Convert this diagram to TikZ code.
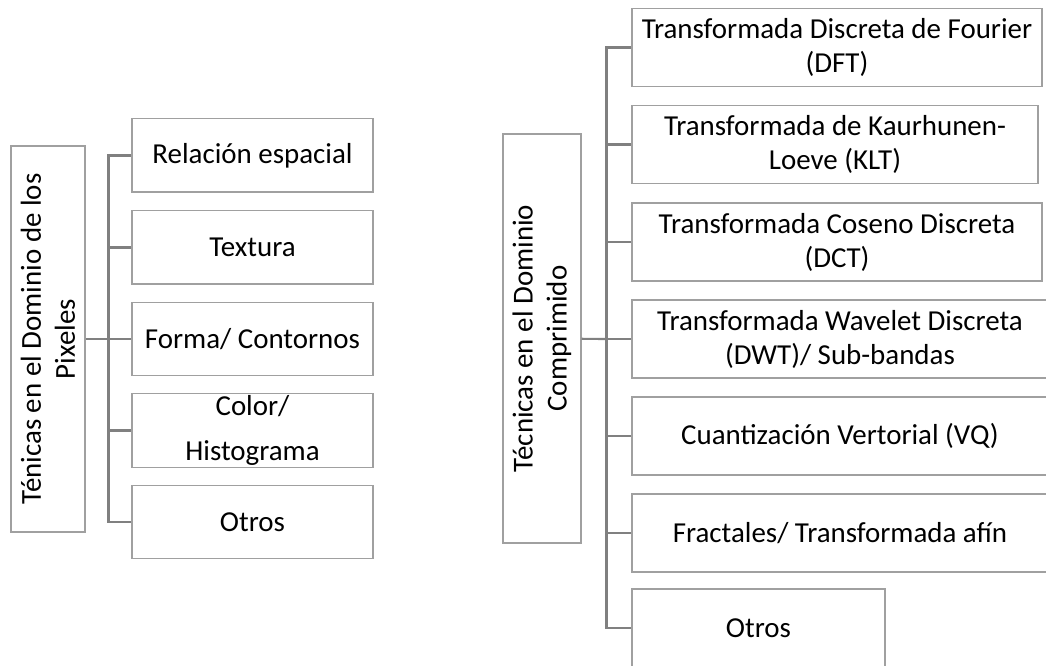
\documentclass[tikz,border=0pt]{standalone}
\usepackage{fontspec}
\setmainfont{Carlito}
\definecolor{boxgray}{RGB}{160,160,160}
\definecolor{linegray}{RGB}{128,128,128}
\begin{document}
\begin{tikzpicture}[x=0.75pt,y=-0.75pt,
  box/.style={draw=boxgray, line width=1.1pt, fill=white, inner sep=0pt, align=center,
    font=\fontsize{21.7pt}{25.5pt}\selectfont},
  lbox/.style={box, minimum width=180.75pt, minimum height=55.1pt},
  rbox/.style={box, minimum height=58.5pt},
  conn/.style={draw=linegray, line width=1.6pt}]
\useasboundingbox (0,0) rectangle (1046,666);
\clip (0,0) rectangle (1046,666);

% left tree
\coordinate (lb) at (108.5,339);
\coordinate (rb) at (606.5,339);

\node[box, rotate=90, minimum width=289.5pt, minimum height=55.5pt] (lroot) at (48,339)
  {Ténicas en el Dominio de los\\Pixeles};
\node[lbox] (l1) at (252.5,155.5) {Relación espacial};
\node[lbox] (l2) at (252.5,247.5) {Textura};
\node[lbox] (l3) at (252.5,339) {Forma/ Contornos};
\node[lbox, font=\fontsize{21.7pt}{33.75pt}\selectfont] (l4) at (252.5,430.5) {Color/\\Histograma};
\node[lbox] (l5) at (252.5,522) {Otros};

% right tree
\node[box, rotate=90, minimum width=306.75pt, minimum height=58.5pt] (rroot) at (542,338.5)
  {Técnicas en el Dominio\\Comprimido};
\node[rbox, minimum width=307.5pt] (r1) at (837,47.5) {Transformada Discreta de Fourier\\(DFT)};
\node[rbox, minimum width=304.5pt] (r2) at (835,144.5) {Transformada de Kaurhunen-\\Loeve (KLT)};
\node[rbox, minimum width=307.5pt] (r3) at (837,242) {Transformada Coseno Discreta\\(DCT)};
\node[rbox, minimum width=312pt] (r4) at (840,339) {Transformada Wavelet Discreta\\(DWT)/ Sub-bandas};
\node[rbox, minimum width=312pt] (r5) at (840,436) {Cuantización Vertorial (VQ)};
\node[rbox, minimum width=312pt] (r6) at (840,533) {Fractales/ Transformada afín};
\node[rbox, minimum width=189.75pt] (r7) at (758.5,628) {Otros};

% connectors
\draw[conn] (lroot) -- (lb);
\foreach \n in {l1,l2,l3,l4,l5} \draw[conn] (lb) |- (\n.west);
\draw[conn] (rroot) -- (rb);
\foreach \n in {r1,r2,r3,r4,r5,r6,r7} \draw[conn] (rb) |- (\n.west);
\end{tikzpicture}
\end{document}
